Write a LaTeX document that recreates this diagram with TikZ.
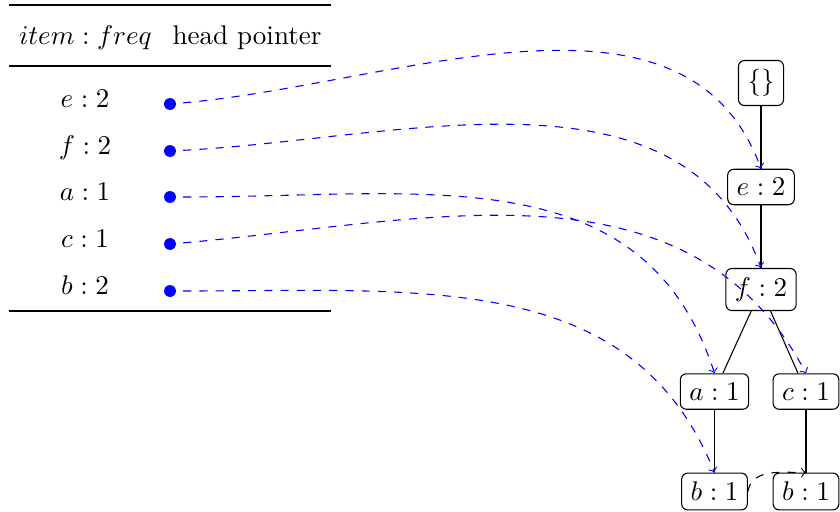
\documentclass[tikz,border=0pt]{standalone}
\usepackage{amsmath,amssymb}
\usepackage{xcolor}
\usepackage{tikz}
\usetikzlibrary{calc,arrows,positioning}
\definecolor{cPtr}{RGB}{0,0,255}
\definecolor{cTree}{RGB}{0,0,0}

\begin{document}
\begin{tikzpicture}[x=0.37pt,y=-0.37pt,
  fpnode/.style={draw=cTree,rounded corners=2.2pt},
  ptrdot/.style={circle,fill=cPtr,inner sep=0pt,minimum size=4.4pt},
  ptr/.style={->,cPtr,dashed,shorten <=2.5pt},
  nodelink/.style={->,dashed}]
  \useasboundingbox (0,0) rectangle (840,511);
  % header table
  \draw[line width=0.8pt] (9,5) -- (331,5);
  \node[anchor=base] (hItem) at (85.5,45) {$item:freq$};
  \node[anchor=base] (hHead) at (247,45) {head pointer};
  \draw[line width=0.5pt] (9,66) -- (331,66);
  \node[anchor=base] (le) at (85,107) {$e:2$};
  \node[anchor=base] (lf) at (85,154) {$f:2$};
  \node[anchor=base] (la) at (85,200) {$a:1$};
  \node[anchor=base] (lc) at (85,247) {$c:1$};
  \node[anchor=base] (lb) at (85,294) {$b:2$};
  \node[ptrdot] (de) at (170,104) {};
  \node[ptrdot] (df) at (170,151) {};
  \node[ptrdot] (da) at (170,197) {};
  \node[ptrdot] (dc) at (170,244) {};
  \node[ptrdot] (db) at (170,291) {};
  \draw[line width=0.8pt] (9,311) -- (331,311);
  % the tree
  \node[fpnode] (root) at (761,83)    {$\{\}$};
  \node[fpnode] (ne)   at (761,187)   {$e:2$};
  \node[fpnode] (nf)   at (761,289.5) {$f:2$};
  \node[fpnode] (na)   at (714.5,391.5) {$a:1$};
  \node[fpnode] (nc)   at (806,391.5) {$c:1$};
  \node[fpnode] (nb1)  at (714.5,491.5) {$b:1$};
  \node[fpnode] (nb2)  at (806,491.5) {$b:1$};
  \draw[cTree] (root) -- (ne);
  \draw[cTree] (ne) -- (nf);
  \draw[cTree] (nf) -- (na);
  \draw[cTree] (nf) -- (nc);
  \draw[cTree] (na) -- (nb1);
  \draw[cTree] (nc) -- (nb2);
  % head pointers
  \draw[ptr] (de) to[out=5,in=110,distance=81pt] (ne.north);
  \draw[ptr] (df) to[out=3,in=110,distance=84pt] (nf.north);
  \draw[ptr] (da) to[out=0,in=108,out distance=92pt,in distance=85pt] (na.north);
  \draw[ptr] (dc) to[out=5,in=118] (nc.north);
  \draw[ptr] (db) to[out=0,in=112,out distance=92pt,in distance=81pt] (nb1.north);
  \draw[nodelink] (nb1.east) to[out=80,in=180] (nb2.north);
\end{tikzpicture}
\end{document}
